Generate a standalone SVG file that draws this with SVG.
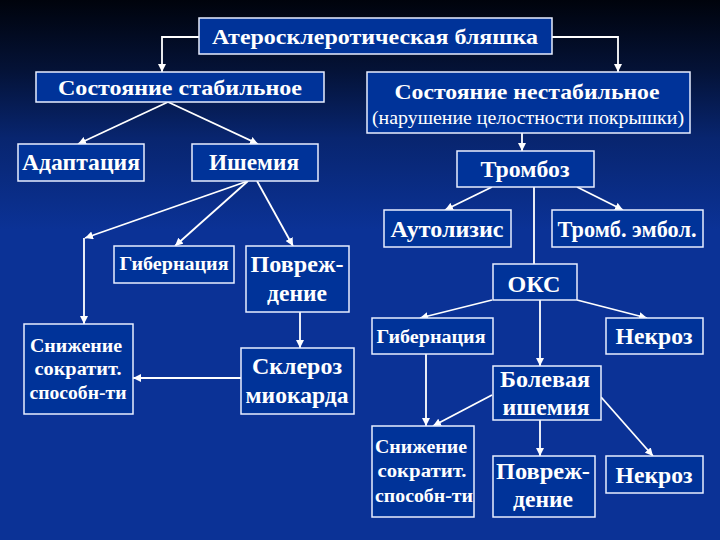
<svg xmlns="http://www.w3.org/2000/svg" width="720" height="540" viewBox="0 0 720 540">
<defs>
<linearGradient id="bg" gradientUnits="userSpaceOnUse" x1="0" y1="0" x2="0" y2="230">
<stop offset="0" stop-color="#00030c"/>
<stop offset="0.3" stop-color="#041236"/>
<stop offset="0.6" stop-color="#08256f"/>
<stop offset="1" stop-color="#0b3296"/>
</linearGradient>
<marker id="ah" viewBox="0 0 10 10" refX="10" refY="5" markerWidth="8" markerHeight="8" markerUnits="userSpaceOnUse" orient="auto">
<path d="M0,0 L10,5 L0,10 z" fill="#ffffff"/>
</marker>
<style>
.box{fill:#003399;stroke:#e8eeff;stroke-width:1.5}
.t{font-family:"Liberation Serif","Times New Roman",serif;font-weight:bold;fill:#ffffff;text-anchor:middle}
.n{font-family:"Liberation Serif","Times New Roman",serif;fill:#ffffff;text-anchor:middle}
.c{fill:none;stroke:#ffffff;stroke-width:1.8}
.a{marker-end:url(#ah)}
</style>
</defs>
<rect x="0" y="0" width="720" height="540" fill="url(#bg)"/>

<g id="connectors">
<path class="c a" d="M199,37 H162 V72"/>
<path class="c a" d="M552,37 H618 V72"/>
<path class="c a" d="M168,102 L78,144"/>
<path class="c a" d="M168,102 L258,144"/>
<path class="c a" d="M522,133 V151"/>
<path class="c a" d="M492,187 L445,210"/>
<path class="c a" d="M577,187 L623,210"/>
<path class="c" d="M534,187 V264"/>
<path class="c a" d="M248,181 L85,238"/>
<path class="c a" d="M84,238 V324"/>
<path class="c a" d="M248,181 L175,246"/>
<path class="c a" d="M257,181 L293,246"/>
<path class="c a" d="M300,312 V348"/>
<path class="c a" d="M241,378 H133"/>
<path class="c a" d="M492,300 L420,318"/>
<path class="c a" d="M577,300 L647,318"/>
<path class="c a" d="M540,300 V366"/>
<path class="c a" d="M426,354 V426"/>
<path class="c a" d="M492,395 L433,426"/>
<path class="c a" d="M540,420 V456"/>
<path class="c a" d="M601,397 L653,456"/>
</g>

<g id="plaque">
<rect class="box" x="199" y="18" width="353" height="36"/>
<text class="t" x="375" y="44" font-size="22" textLength="326" lengthAdjust="spacingAndGlyphs">Атеросклеротическая бляшка</text>
</g>
<g id="stable">
<rect class="box" x="36" y="72" width="288" height="30"/>
<text class="t" x="180" y="95" font-size="22" textLength="244" lengthAdjust="spacingAndGlyphs">Состояние стабильное</text>
</g>
<g id="unstable">
<rect class="box" x="367" y="72" width="323" height="61"/>
<text class="t" x="527" y="99" font-size="22" textLength="265" lengthAdjust="spacingAndGlyphs">Состояние нестабильное</text>
<text class="n" x="528" y="124" font-size="19" textLength="312" lengthAdjust="spacingAndGlyphs">(нарушение целостности покрышки)</text>
</g>
<g id="adaptation">
<rect class="box" x="18" y="144" width="126" height="37"/>
<text class="t" x="81" y="170" font-size="23" textLength="118" lengthAdjust="spacingAndGlyphs">Адаптация</text>
</g>
<g id="ischemia">
<rect class="box" x="192" y="144" width="126" height="37"/>
<text class="t" x="254" y="170" font-size="23" textLength="90" lengthAdjust="spacingAndGlyphs">Ишемия</text>
</g>
<g id="thrombosis">
<rect class="box" x="457" y="151" width="137" height="36"/>
<text class="t" x="525" y="177" font-size="23" textLength="89" lengthAdjust="spacingAndGlyphs">Тромбоз</text>
</g>
<g id="autolysis">
<rect class="box" x="384" y="210" width="127" height="37"/>
<text class="t" x="447" y="237" font-size="23" textLength="113" lengthAdjust="spacingAndGlyphs">Аутолизис</text>
</g>
<g id="thromboembolism">
<rect class="box" x="552" y="210" width="151" height="37"/>
<text class="t" x="627" y="237" font-size="23" textLength="139" lengthAdjust="spacingAndGlyphs">Тромб. эмбол.</text>
</g>
<g id="oks">
<rect class="box" x="493" y="264" width="84" height="36"/>
<text class="t" x="534" y="292" font-size="23" textLength="53" lengthAdjust="spacingAndGlyphs">ОКС</text>
</g>
<g id="hibernation-left">
<rect class="box" x="114" y="246" width="120" height="37"/>
<text class="t" x="174" y="270" font-size="18" textLength="109" lengthAdjust="spacingAndGlyphs">Гибернация</text>
</g>
<g id="damage-left">
<rect class="box" x="246" y="246" width="103" height="66"/>
<text class="t" x="297" y="272" font-size="23" textLength="93" lengthAdjust="spacingAndGlyphs">Повреж-</text>
<text class="t" x="297" y="301" font-size="23" textLength="60" lengthAdjust="spacingAndGlyphs">дение</text>
</g>
<g id="contractility-left">
<rect class="box" x="24" y="324" width="109" height="90"/>
<text class="t" x="76" y="352" font-size="18" textLength="92" lengthAdjust="spacingAndGlyphs">Снижение</text>
<text class="t" x="78" y="375" font-size="18" textLength="87" lengthAdjust="spacingAndGlyphs">сократит.</text>
<text class="t" x="78" y="399" font-size="18" textLength="97" lengthAdjust="spacingAndGlyphs">способн-ти</text>
</g>
<g id="sclerosis">
<rect class="box" x="241" y="348" width="113" height="66"/>
<text class="t" x="297" y="374" font-size="23" textLength="90" lengthAdjust="spacingAndGlyphs">Склероз</text>
<text class="t" x="297" y="403" font-size="23" textLength="103" lengthAdjust="spacingAndGlyphs">миокарда</text>
</g>
<g id="hibernation-right">
<rect class="box" x="372" y="318" width="121" height="36"/>
<text class="t" x="431" y="343" font-size="18" textLength="109" lengthAdjust="spacingAndGlyphs">Гибернация</text>
</g>
<g id="necrosis-top">
<rect class="box" x="606" y="318" width="97" height="36"/>
<text class="t" x="654" y="344" font-size="23" textLength="77" lengthAdjust="spacingAndGlyphs">Некроз</text>
</g>
<g id="pain-ischemia">
<rect class="box" x="493" y="366" width="108" height="54"/>
<text class="t" x="545" y="387" font-size="23" textLength="90" lengthAdjust="spacingAndGlyphs">Болевая</text>
<text class="t" x="546" y="415" font-size="23" textLength="87" lengthAdjust="spacingAndGlyphs">ишемия</text>
</g>
<g id="contractility-right">
<rect class="box" x="372" y="426" width="102" height="91"/>
<text class="t" x="421" y="453" font-size="18" textLength="92" lengthAdjust="spacingAndGlyphs">Снижение</text>
<text class="t" x="422" y="477" font-size="18" textLength="89" lengthAdjust="spacingAndGlyphs">сократит.</text>
<text class="t" x="424" y="502" font-size="18" textLength="98" lengthAdjust="spacingAndGlyphs">способн-ти</text>
</g>
<g id="damage-right">
<rect class="box" x="493" y="456" width="102" height="61"/>
<text class="t" x="543" y="479" font-size="23" textLength="94" lengthAdjust="spacingAndGlyphs">Повреж-</text>
<text class="t" x="543" y="507" font-size="23" textLength="60" lengthAdjust="spacingAndGlyphs">дение</text>
</g>
<g id="necrosis-bottom">
<rect class="box" x="606" y="456" width="97" height="37"/>
<text class="t" x="654" y="483" font-size="23" textLength="77" lengthAdjust="spacingAndGlyphs">Некроз</text>
</g>
</svg>
